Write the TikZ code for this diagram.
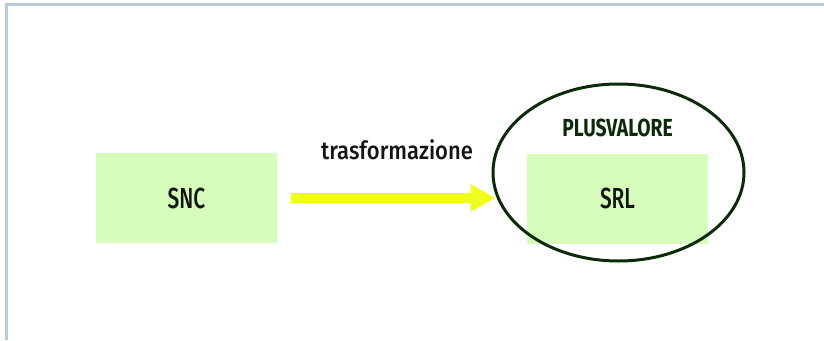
\documentclass[tikz,border=0pt]{standalone}
\usepackage{fontspec}
\setmainfont{Fira Sans}
\newfontfamily\boxfont[FakeStretch=0.72, UprightFont=* Medium]{Fira Sans}
\newfontfamily\labelfont[FakeStretch=0.88, UprightFont=* Medium]{Fira Sans}
\newfontfamily\headfont[FakeStretch=0.78, UprightFont=* Bold]{Fira Sans}
\usetikzlibrary{arrows.meta,shapes.geometric}
\definecolor{frameblue}{HTML}{B9CAD9}
\definecolor{boxgreen}{HTML}{D6FDBA}
\definecolor{ringgreen}{HTML}{0B2A08}
\definecolor{arrowyellow}{HTML}{EEFF1C}
\definecolor{inktext}{HTML}{141414}
\tikzset{
  entity/.style={fill=boxgreen, minimum width=181pt, minimum height=90pt,
    inner sep=0pt, font=\boxfont\fontsize{29}{29}\selectfont, text=inktext},
  ring/.style={draw=ringgreen, line width=3pt},
  flow/.style={draw=arrowyellow, line width=10pt,
    -{Triangle[width=26pt,length=25pt]}, shorten >=-4pt}
}
\begin{document}
\begin{tikzpicture}[x=1pt,y=-1pt]
  \useasboundingbox (0,0) rectangle (824,340);
  % frame lines along the top and left edges
  \draw[frameblue, line width=3pt] (5,4.5) -- (824,4.5);
  \draw[frameblue, line width=3pt] (6,3) -- (6,340);
  % company boxes
  \node[entity] (snc) at (186.5,198) {SNC};
  \node[entity] (srl) at (617.5,198.5) {SRL};
  % ring round the new company
  \node[ring, ellipse, minimum width=251pt, minimum height=177pt, inner sep=0pt]
    (plus) at (618.5,172.5) {};
  \node[font=\headfont\fontsize{24.7}{24.7}\selectfont, text=ringgreen]
    (plustxt) at (617.5,128) {PLUSVALORE};
  % transformation arrow
  \coordinate (flowstart) at (291,198);
  \draw[flow] (flowstart) -- (flowstart -| plus.west);
  \node[font=\labelfont\fontsize{25}{25}\selectfont, text=inktext]
    (flowtxt) at (397,150) {trasformazione};
\end{tikzpicture}
\end{document}
